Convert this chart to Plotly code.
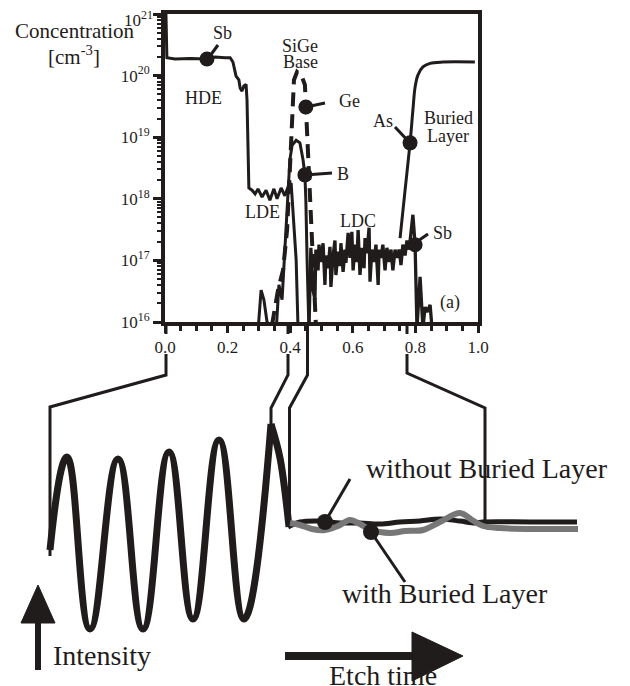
import plotly.graph_objects as go

INK = "#1f1c1b"
SERIF = "Liberation Serif, Times New Roman, serif"
PAGE_OFFSET = 8  # default page margin around the figure, in pixels

# ---------------- depth profile data (x: relative depth, y: concentration cm^-3)
sb_x = [0.003, 0.006, 0.032, 0.080, 0.134, 0.160, 0.192, 0.208, 0.217, 0.224, 0.227, 0.236,
        0.240, 0.246, 0.252, 0.259, 0.262, 0.268, 0.278, 0.288, 0.297, 0.310, 0.323, 0.335,
        0.348, 0.358, 0.371, 0.383, 0.393, 0.403, 0.409, 0.419, 0.425]
sb_y = [1.0e21, 1.95e20, 1.86e20, 1.9e20, 1.86e20, 2.0e20, 1.95e20, 1.95e20, 1.66e20, 1.23e20,
        9.8e19, 8.5e19, 6.3e19, 5.6e19, 6.8e19, 7.2e19, 4.0e19, 1.5e18, 1.38e18, 1.2e18,
        1.45e18, 1.07e18, 1.38e18, 9.5e17, 1.45e18, 1.0e18, 1.5e18, 1.12e18, 1.55e18, 1.8e18,
        6.6e17, 1.02e17, 8e15]

ge_x = [0.342, 0.361, 0.377, 0.390, 0.399, 0.406, 0.412, 0.422, 0.435, 0.447, 0.450, 0.457,
        0.463, 0.470, 0.476, 0.482]
ge_y = [9e15, 3.3e16, 6.9e16, 3.1e17, 3.0e18, 2.75e19, 8.5e19, 1.15e20, 1.02e20, 7.1e19,
        3.1e19, 8.9e18, 9.5e17, 1.5e17, 2.3e16, 9e15]

b_x = [0.297, 0.307, 0.316, 0.326, 0.355, 0.364, 0.374, 0.383, 0.393, 0.399, 0.406, 0.419,
       0.431, 0.441, 0.447, 0.450, 0.454, 0.457, 0.460]
b_y = [7e15, 3.3e16, 2.3e16, 1e16, 7e15, 4e16, 2.3e16, 1.5e17, 9.5e17, 4.3e18, 7.4e18, 8.9e18,
       8.1e18, 4.3e18, 2.45e18, 9.5e17, 1.0e17, 1e16, 7e15]

ldc_x = [0.460, 0.466, 0.473, 0.479, 0.482, 0.489, 0.492, 0.498, 0.505, 0.511, 0.514, 0.521,
         0.527, 0.530, 0.537, 0.543, 0.546, 0.553, 0.559, 0.562, 0.569, 0.575, 0.578, 0.585,
         0.591, 0.597, 0.601, 0.607, 0.613, 0.617, 0.623, 0.629, 0.636, 0.639, 0.645, 0.652,
         0.655, 0.661, 0.668, 0.674, 0.681, 0.684, 0.690, 0.696, 0.703, 0.709, 0.716, 0.722,
         0.728, 0.735, 0.741, 0.748, 0.754, 0.760, 0.767, 0.773, 0.780, 0.786, 0.792, 0.799,
         0.802, 0.805, 0.815, 0.824, 0.831, 0.837, 0.847, 0.853]
ldc_y = [8e15, 1.6e17, 3.3e16, 2.3e16, 1.5e17, 6.9e16, 1.8e17, 9.4e16, 1.9e17, 4.0e16, 1.2e17,
         7.5e16, 1.66e17, 3.7e16, 1.2e17, 2.1e17, 5.8e16, 1.38e17, 8.1e16, 1.9e17, 6.5e16,
         1.5e17, 9.1e16, 2.8e17, 1.1e17, 2.9e17, 6.9e16, 1.8e17, 9.4e16, 3.1e17, 5.8e16, 1.6e17,
         7.5e16, 2.3e17, 1.3e17, 3.4e17, 4.5e16, 1.5e17, 9.4e16, 1.8e17, 4.0e16, 1.5e17, 1.1e17,
         1.8e17, 6.9e16, 1.6e17, 9.4e16, 1.5e17, 6.9e16, 1.5e17, 1.1e17, 1.5e17, 8.4e16, 1.8e17,
         1.2e17, 2.1e17, 1.5e17, 3.4e17, 5.5e17, 1.8e17, 4.8e16, 8e15, 5.4e16, 8e15, 1.75e16,
         1.45e16, 1.9e16, 8e15]

as_x = [0.751, 0.767, 0.783, 0.792, 0.799, 0.808, 0.824, 0.847, 0.888, 0.990]
as_y = [2.3e17, 1.38e18, 8.1e18, 2.75e19, 6.5e19, 1.02e20, 1.38e20, 1.58e20, 1.66e20, 1.66e20]

# labelled points on the profiles
dot_x = [0.134, 0.450, 0.447, 0.783, 0.799]
dot_y = [1.86e20, 3.1e19, 2.45e18, 8.1e18, 1.8e17]

x_ticks = [0.0, 0.2, 0.4, 0.6, 0.8, 1.0]
x_ticktext = ["0.0", "0.2", "0.4", "0.6", "0.8", "1.0"]
x_minor = [0.05, 0.1, 0.15, 0.25, 0.3, 0.35, 0.45, 0.5, 0.55, 0.65, 0.7, 0.75, 0.85, 0.9, 0.95]
y_ticks = [1e16, 1e17, 1e18, 1e19, 1e20, 1e21]
y_ticktext = ["10<sup>16</sup>", "10<sup>17</sup>", "10<sup>18</sup>", "10<sup>19</sup>",
              "10<sup>20</sup>", ""]
y_top_label = "10<sup>21</sup>"   # drawn separately so it is not clipped at the page top
y_minor = [float(k) * 10.0 ** d for d in range(16, 21) for k in range(2, 10)]

# ---------------- schematic (page pixel coordinates)
conn_x = [166, 166, None, 166, 166, 50, 50, None,
          288, 288, None, 288, 288, 271, 271, None,
          307.5, 307.5, 289.5, 289.5, None,
          407, 407, None, 407, 407, 485, 485]
conn_y = [322, 334, None, 354, 375, 407, 556, None,
          322, 334, None, 354, 375, 408, 424, None,
          322, 375, 408, 527, None,
          322, 334, None, 354, 373, 408, 523]

wave_x = [50, 67, 90, 118, 143, 169, 193, 219, 244, 271]
wave_y = [550, 457, 629, 459, 629, 452, 619, 440, 619, 424]
tail_x = [271, 280, 289]
tail_y = [424, 458, 527]

flat_black_x = [288, 300, 320, 340, 360, 380, 400, 420, 440, 460, 475, 483, 530, 577]
flat_black_y = [527, 522, 521, 523, 523, 524, 522, 521, 519, 521, 523, 522, 522, 522]
flat_gray_x = [290, 300, 312, 325, 338, 350, 360, 371, 390, 405, 423, 440, 460, 472, 483, 500, 540, 578]
flat_gray_y = [523, 525, 529, 530, 526, 520, 524, 530, 533, 531, 530, 522, 513, 520, 526, 528, 529, 529]

lead_x = [325, 350, None, 371, 405]
lead_y = [522, 479, None, 532, 582]
mark_x = [325, 371]
mark_y = [522, 532]

up_shaft_x = [38, 38]
up_shaft_y = [670, 618]
up_head_x = [21, 38, 55, 21]
up_head_y = [623, 585, 623, 623]
right_shaft_x = [285, 415]
right_shaft_y = [656, 656]
right_head_x = [412, 463, 412, 412]
right_head_y = [632, 656, 681, 632]

fig = go.Figure()

# profiles
fig.add_trace(go.Scatter(x=ldc_x, y=ldc_y, mode="lines", line=dict(color=INK, width=3.3)))
fig.add_trace(go.Scatter(x=b_x, y=b_y, mode="lines", line=dict(color=INK, width=3)))
fig.add_trace(go.Scatter(x=ge_x, y=ge_y, mode="lines", line=dict(color=INK, width=4, dash="14px,8px")))
fig.add_trace(go.Scatter(x=sb_x, y=sb_y, mode="lines", line=dict(color=INK, width=3)))
fig.add_trace(go.Scatter(x=as_x, y=as_y, mode="lines", line=dict(color=INK, width=3, shape="spline")))
fig.add_trace(go.Scatter(x=dot_x, y=dot_y, mode="markers", marker=dict(color=INK, size=15)))

# schematic on a pixel overlay
ov = dict(xaxis="x2", yaxis="y2", hoverinfo="skip")
fig.add_trace(go.Scatter(x=conn_x, y=conn_y, mode="lines", line=dict(color=INK, width=3), **ov))
fig.add_trace(go.Scatter(x=wave_x, y=wave_y, mode="lines",
                         line=dict(color=INK, width=7, shape="spline", smoothing=1.3), **ov))
fig.add_trace(go.Scatter(x=tail_x, y=tail_y, mode="lines",
                         line=dict(color=INK, width=7, shape="spline"), **ov))
fig.add_trace(go.Scatter(x=flat_black_x, y=flat_black_y, mode="lines",
                         line=dict(color=INK, width=5, shape="spline"), **ov))
fig.add_trace(go.Scatter(x=flat_gray_x, y=flat_gray_y, mode="lines",
                         line=dict(color="#777777", width=6, shape="spline"), **ov))
fig.add_trace(go.Scatter(x=lead_x, y=lead_y, mode="lines", line=dict(color=INK, width=3), **ov))
fig.add_trace(go.Scatter(x=mark_x, y=mark_y, mode="markers", marker=dict(color=INK, size=16), **ov))
fig.add_trace(go.Scatter(x=up_shaft_x, y=up_shaft_y, mode="lines", line=dict(color=INK, width=6), **ov))
fig.add_trace(go.Scatter(x=up_head_x, y=up_head_y, mode="lines", fill="toself", fillcolor=INK,
                         line=dict(color=INK, width=1), **ov))
fig.add_trace(go.Scatter(x=right_shaft_x, y=right_shaft_y, mode="lines", line=dict(color=INK, width=8), **ov))
fig.add_trace(go.Scatter(x=right_head_x, y=right_head_y, mode="lines", fill="toself", fillcolor=INK,
                         line=dict(color=INK, width=1), **ov))

# profile label leaders (pixel overlay)
pl_x = [207, 218, None, 306, 325, None, 305, 332, None, 410, 395, None, 415, 428]
pl_y = [60, 45, None, 107, 103, None, 175, 173, None, 143, 127, None, 243, 234]
fig.add_trace(go.Scatter(x=pl_x, y=pl_y, mode="lines", line=dict(color=INK, width=3), **ov))

def txt(x, y, s, size=18, anchor="center"):
    fig.add_annotation(x=x, y=y, xref="x2", yref="y2", text=s, showarrow=False,
                       xanchor=anchor, yanchor="middle",
                       font=dict(family=SERIF, size=size, color=INK))

txt(155, 19, y_top_label, size=17, anchor="right")
txt(222, 33, "Sb")
txt(203, 98, "HDE")
txt(300, 46, "SiGe")
txt(300, 62, "Base")
txt(337, 101, "Ge", anchor="left")
txt(335, 174, "B", anchor="left")
txt(383, 121, "As")
txt(448, 118, "Buried")
txt(448, 136, "Layer")
txt(262, 212, "LDE")
txt(358, 221, "LDC")
txt(431, 233, "Sb", anchor="left")
txt(450, 302, "(a)")
txt(74, 31, "Concentration", size=21)
txt(74, 55, "[cm<sup>-3</sup>]", size=21)
txt(364, 468, "without Buried Layer", size=28, anchor="left")
txt(340, 593, "with Buried Layer", size=28, anchor="left")
txt(51, 655, "Intensity", size=28, anchor="left")
txt(383, 675, "Etch time", size=28)

axis_common = dict(showgrid=False, zeroline=False, showline=True, linewidth=4, linecolor=INK,
                   mirror=True, ticks="outside", tickwidth=3, tickcolor=INK, automargin=False,
                   ticklabeloverflow="allow",
                   tickfont=dict(family=SERIF, size=17, color=INK))

W, H, o = 630, 686, PAGE_OFFSET
fig.update_layout(
    template="none",
    width=W, height=H, margin=dict(l=0, r=0, t=0, b=0, pad=0, autoexpand=False),
    paper_bgcolor="white", plot_bgcolor="rgba(0,0,0,0)", showlegend=False,
    xaxis=dict(domain=[(165 - o) / W, (478 - o) / W], range=[0, 1], tickvals=x_ticks,
               ticktext=x_ticktext, ticklen=7,
               minor=dict(tickvals=x_minor, ticks="outside", ticklen=5, tickwidth=3, tickcolor=INK),
               **axis_common),
    yaxis=dict(domain=[1 - (322 - o) / H, 1 - (14 - o) / H], type="log", range=[16, 21],
               tickvals=y_ticks, ticktext=y_ticktext, ticklen=8,
               minor=dict(tickvals=y_minor, ticks="outside", ticklen=4, tickwidth=2, tickcolor=INK),
               **axis_common),
    xaxis2=dict(domain=[0, 1], range=[o, W + o], visible=False, anchor="y2", automargin=False),
    yaxis2=dict(domain=[0, 1], range=[H + o, o], visible=False, anchor="x2", automargin=False),
)

fig.write_html("out.html")
